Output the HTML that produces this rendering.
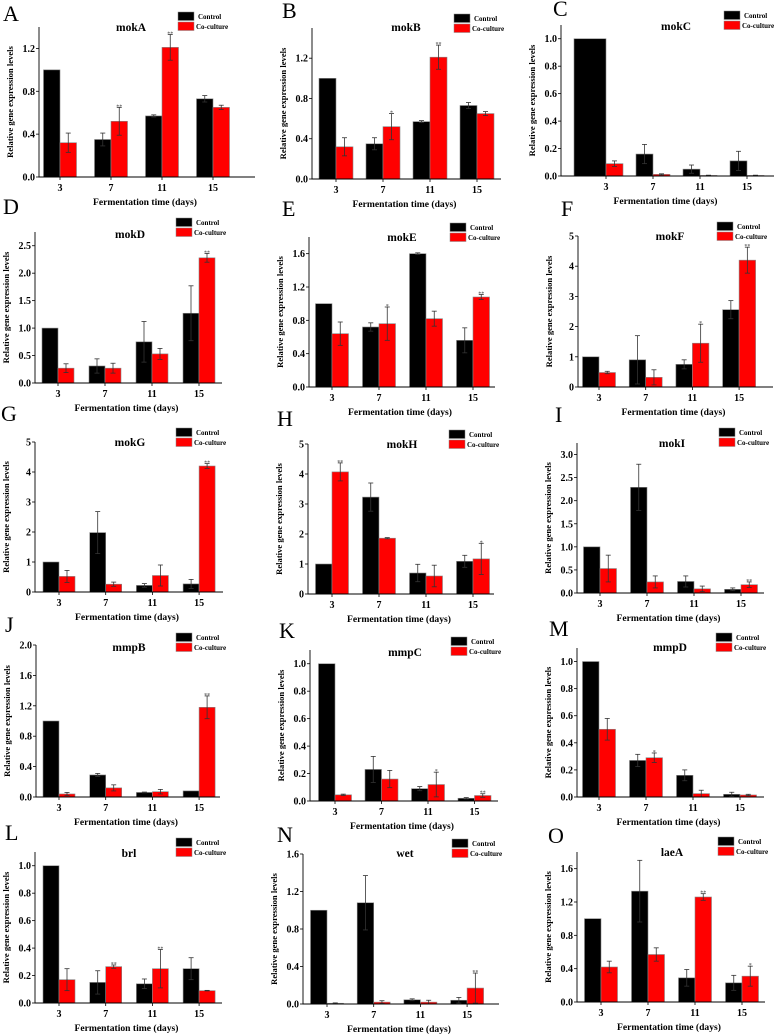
<!DOCTYPE html>
<html><head><meta charset="utf-8">
<style>
html,body{margin:0;padding:0;background:#fff;}
svg{display:block;font-family:"Liberation Serif",serif;}
</style></head>
<body>
<svg id="fig" width="775" height="1035" viewBox="0 0 775 1035" xmlns="http://www.w3.org/2000/svg"></svg>
<script>
const categories = ["3","7","11","15"];
const mokA_ctl=[1,0.35,0.57,0.73], mokA_ctlErr=[0,0.06,0.01,0.03], mokA_co=[0.32,0.52,1.21,0.65], mokA_coErr=[0.09,0.13,0.12,0.02], mokA_sig=["","**","**",""];
const mokB_ctl=[1,0.35,0.57,0.73], mokB_ctlErr=[0,0.06,0.01,0.03], mokB_co=[0.32,0.52,1.21,0.65], mokB_coErr=[0.09,0.13,0.12,0.02], mokB_sig=["","*","**",""];
const mokC_ctl=[1,0.16,0.05,0.11], mokC_ctlErr=[0,0.07,0.03,0.07], mokC_co=[0.09,0.012,0.004,0.004], mokC_coErr=[0.02,0.004,0.002,0.002], mokC_sig=["","","",""];
const mokD_ctl=[1,0.31,0.75,1.27], mokD_ctlErr=[0,0.13,0.37,0.5], mokD_co=[0.27,0.27,0.53,2.28], mokD_coErr=[0.08,0.09,0.1,0.08], mokD_sig=["","","","**"];
const mokE_ctl=[1,0.72,1.6,0.56], mokE_ctlErr=[0,0.05,0.01,0.15], mokE_co=[0.64,0.76,0.82,1.08], mokE_coErr=[0.14,0.2,0.09,0.03], mokE_sig=["","*","","**"];
const mokF_ctl=[1,0.9,0.75,2.56], mokF_ctlErr=[0,0.8,0.15,0.3], mokF_co=[0.48,0.32,1.45,4.2], mokF_coErr=[0.04,0.25,0.63,0.43], mokF_sig=["","","*","**"];
const mokG_ctl=[1,1.98,0.22,0.27], mokG_ctlErr=[0,0.7,0.06,0.15], mokG_co=[0.52,0.26,0.55,4.2], mokG_coErr=[0.2,0.07,0.35,0.08], mokG_sig=["","","","**"];
const mokH_ctl=[1,3.23,0.7,1.09], mokH_ctlErr=[0,0.47,0.29,0.2], mokH_co=[4.07,1.86,0.6,1.17], mokH_coErr=[0.3,0.02,0.36,0.52], mokH_sig=["**","","","*"];
const mokI_ctl=[1,2.29,0.25,0.08], mokI_ctlErr=[0,0.5,0.12,0.03], mokI_co=[0.53,0.24,0.09,0.18], mokI_coErr=[0.29,0.13,0.06,0.06], mokI_sig=["","","","**"];
const mmpB_ctl=[1,0.29,0.06,0.08], mmpB_ctlErr=[0,0.02,0.005,0], mmpB_co=[0.04,0.12,0.07,1.18], mmpB_coErr=[0.02,0.04,0.03,0.15], mmpB_sig=["","","","**"];
const mmpC_ctl=[1,0.23,0.09,0.02], mmpC_ctlErr=[0,0.095,0.015,0.005], mmpC_co=[0.045,0.16,0.12,0.04], mmpC_coErr=[0.005,0.063,0.09,0.013], mmpC_sig=["","","*","**"];
const mmpD_ctl=[1,0.27,0.16,0.02], mmpD_ctlErr=[0,0.045,0.04,0.015], mmpD_co=[0.5,0.29,0.025,0.015], mmpD_coErr=[0.08,0.035,0.025,0.005], mmpD_sig=["","*","",""];
const brl_ctl=[1,0.15,0.14,0.25], brl_ctlErr=[0,0.085,0.035,0.08], brl_co=[0.17,0.265,0.25,0.09], brl_coErr=[0.08,0.012,0.14,0.002], brl_sig=["","**","**",""];
const wet_ctl=[1,1.08,0.045,0.04], wet_ctlErr=[0,0.29,0.01,0.03], wet_co=[0.008,0.02,0.02,0.17], wet_coErr=[0.004,0.015,0.02,0.16], wet_sig=["","","","**"];
const laeA_ctl=[1,1.33,0.29,0.23], laeA_ctlErr=[0,0.37,0.1,0.09], laeA_co=[0.42,0.57,1.26,0.31], laeA_coErr=[0.07,0.08,0.04,0.12], laeA_sig=["","","**","*"];
const ticksA=[0,0.4,0.8,1.2], ticks02=[0,0.2,0.4,0.6,0.8,1.0], ticksD=[0,0.5,1.0,1.5,2.0,2.5], ticks16=[0,0.4,0.8,1.2,1.6], ticks5=[0,1,2,3,4,5], ticksI=[0,0.5,1.0,1.5,2.0,2.5,3.0], ticksJ=[0,0.4,0.8,1.2,1.6,2.0];

const panels=[
 {letter:"A",lx:3,ly:21,gene:"mokA",tx:131,ty:31,L:39,R:255,Z:177,T:27,max:1.4,ticks:ticksA,dec:1,g0:60,gs:51,bw:16.5,legX:178,legY:12,c:mokA_ctl,ce:mokA_ctlErr,r:mokA_co,re:mokA_coErr,s:mokA_sig},
 {letter:"B",lx:282,ly:18,gene:"mokB",tx:406,ty:31,L:312,R:501,Z:179,T:28,max:1.5,ticks:ticksA,dec:1,g0:336,gs:47,bw:17,legX:454,legY:14,c:mokB_ctl,ce:mokB_ctlErr,r:mokB_co,re:mokB_coErr,s:mokB_sig},
 {letter:"C",lx:553,ly:16,gene:"mokC",tx:676,ty:30,L:561,R:774,Z:176,T:25,max:1.1,ticks:ticks02,dec:1,g0:606,gs:47,bw:17,wide0:32,legX:724,legY:11,c:mokC_ctl,ce:mokC_ctlErr,r:mokC_co,re:mokC_coErr,s:mokC_sig},
 {letter:"D",lx:3,ly:214,gene:"mokD",tx:130,ty:238,L:35,R:222,Z:383,T:232,max:2.75,ticks:ticksD,dec:1,g0:58,gs:47,bw:16,legX:176,legY:218,c:mokD_ctl,ce:mokD_ctlErr,r:mokD_co,re:mokD_coErr,s:mokD_sig},
 {letter:"E",lx:282,ly:216,gene:"mokE",tx:402,ty:241,L:309,R:495,Z:387,T:237,max:1.8,ticks:ticks16,dec:1,g0:332,gs:47,bw:16.5,legX:450,legY:223,c:mokE_ctl,ce:mokE_ctlErr,r:mokE_co,re:mokE_coErr,s:mokE_sig},
 {letter:"F",lx:561,ly:216,gene:"mokF",tx:670,ty:240,L:578,R:773,Z:387,T:236,max:5,ticks:ticks5,dec:0,g0:599,gs:46.7,bw:16.5,legX:717,legY:222,c:mokF_ctl,ce:mokF_ctlErr,r:mokF_co,re:mokF_coErr,s:mokF_sig},
 {letter:"G",lx:1,ly:421,gene:"mokG",tx:130,ty:446,L:35,R:223,Z:592,T:442,max:5,ticks:ticks5,dec:0,g0:59,gs:46.7,bw:16,legX:176,legY:428,c:mokG_ctl,ce:mokG_ctlErr,r:mokG_co,re:mokG_coErr,s:mokG_sig},
 {letter:"H",lx:277,ly:426,gene:"mokH",tx:402,ty:448,L:308,R:494,Z:594,T:444,max:5,ticks:ticks5,dec:0,g0:332,gs:47,bw:16.5,legX:449,legY:430,c:mokH_ctl,ce:mokH_ctlErr,r:mokH_co,re:mokH_coErr,s:mokH_sig},
 {letter:"I",lx:555,ly:422,gene:"mokI",tx:672,ty:447,L:577,R:764,Z:593,T:443,max:3.25,ticks:ticksI,dec:1,g0:600,gs:47,bw:16.5,legX:719,legY:428,c:mokI_ctl,ce:mokI_ctlErr,r:mokI_co,re:mokI_coErr,s:mokI_sig},
 {letter:"J",lx:5,ly:632,gene:"mmpB",tx:129,ty:651,L:36,R:220,Z:797,T:645,max:2.0,ticks:ticksJ,dec:1,g0:59,gs:46.7,bw:16,legX:176,legY:633,c:mmpB_ctl,ce:mmpB_ctlErr,r:mmpB_co,re:mmpB_coErr,s:mmpB_sig},
 {letter:"K",lx:279,ly:638,gene:"mmpC",tx:405,ty:656,L:310,R:498,Z:801,T:650,max:1.1,ticks:ticks02,dec:1,g0:335,gs:46.5,bw:16.5,legX:451,legY:637,c:mmpC_ctl,ce:mmpC_ctlErr,r:mmpC_co,re:mmpC_coErr,s:mmpC_sig},
 {letter:"M",lx:549,ly:636,gene:"mmpD",tx:670,ty:651,L:577,R:764,Z:797,T:648,max:1.1,ticks:ticks02,dec:1,g0:599,gs:47,bw:16.5,legX:716,legY:633,c:mmpD_ctl,ce:mmpD_ctlErr,r:mmpD_co,re:mmpD_coErr,s:mmpD_sig},
 {letter:"L",lx:5,ly:840,gene:"brl",tx:129,ty:857,L:35,R:222,Z:1003,T:852,max:1.1,ticks:ticks02,dec:1,g0:59,gs:46.7,bw:16,legX:176,legY:838,c:brl_ctl,ce:brl_ctlErr,r:brl_co,re:brl_coErr,s:brl_sig},
 {letter:"N",lx:277,ly:842,gene:"wet",tx:405,ty:857,L:303,R:499,Z:1004,T:854,max:1.6,ticks:ticks16,dec:1,g0:327,gs:46.7,bw:16.5,legX:452,legY:839,c:wet_ctl,ce:wet_ctlErr,r:wet_co,re:wet_coErr,s:wet_sig},
 {letter:"O",lx:548,ly:843,gene:"laeA",tx:672,ty:856,L:577,R:765,Z:1002,T:852,max:1.8,ticks:ticks16,dec:1,g0:601,gs:47,bw:16.5,legX:718,legY:837,c:laeA_ctl,ce:laeA_ctlErr,r:laeA_co,re:laeA_coErr,s:laeA_sig}
];

const NS="http://www.w3.org/2000/svg";
const fig=document.getElementById("fig");
function mk(tag,attrs,parent,text){const e=document.createElementNS(NS,tag);for(const k in attrs)e.setAttribute(k,attrs[k]);if(text!==undefined)e.textContent=text;parent.appendChild(e);return e;}

panels.forEach(p=>{
  const g=mk("g",{},fig);
  
  
  const y=v=>p.Z-(v/p.max)*(p.Z-p.T);
  const x=i=>p.g0+i*p.gs;
  let t;
  t=mk("text",{x:p.lx,y:p.ly,"font-size":22,fill:"#000"},g,p.letter);
  
  
  t=mk("text",{x:p.tx,y:p.ty,"font-size":11.5,"font-weight":"bold","text-anchor":"middle"},g,p.gene);
  
  
  categories.forEach((cat,i)=>{
    const cx=x(i);
    const cw=(i===0&&p.wide0)?p.wide0:p.bw;
    let b=mk("rect",{x:cx-cw,y:y(p.c[i]),width:cw,height:p.Z-y(p.c[i]),fill:"#000",stroke:"#888","stroke-width":0.6},g);
    
    
    b=mk("rect",{x:cx,y:y(p.r[i]),width:p.bw,height:p.Z-y(p.r[i]),fill:"#f00",stroke:"#888","stroke-width":0.6},g);
    
    
    [[cx-p.bw/2,p.c[i],p.ce[i]],[cx+p.bw/2,p.r[i],p.re[i]]].forEach(([ex,v,e])=>{
      if(e<=0)return;
      const eg=mk("g",{stroke:"#333","stroke-width":0.8},g);
      
      
      mk("line",{x1:ex,x2:ex,y1:y(v+e),y2:y(Math.max(0,v-e))},eg);
      mk("line",{x1:ex-2.5,x2:ex+2.5,y1:y(v+e),y2:y(v+e)},eg);
      mk("line",{x1:ex-2.5,x2:ex+2.5,y1:y(Math.max(0,v-e)),y2:y(Math.max(0,v-e))},eg);
    });
    if(p.s[i]){
      const top=y(p.r[i]+p.re[i]);
      const st=mk("text",{x:cx+p.bw/2,y:top+1,"font-size":6,"text-anchor":"middle",fill:"#444"},g,p.s[i]);
      
      
    }
    const tl=mk("text",{x:cx,y:p.Z+14,"font-size":10,"font-weight":"bold","text-anchor":"middle"},g,cat);
    
    
    mk("line",{x1:cx,x2:cx,y1:p.Z,y2:p.Z+3,stroke:"#000","stroke-width":0.8},g);
  });
  const ax=mk("path",{d:`M${p.L},${p.T}V${p.Z}H${p.R}`,fill:"none",stroke:"#000","stroke-width":0.9},g);
  
  
  p.ticks.forEach(v=>{
    mk("line",{x1:p.L-3,x2:p.L,y1:y(v),y2:y(v),stroke:"#000","stroke-width":0.8},g);
    const yt=mk("text",{x:p.L-4,y:y(v)+3.5,"font-size":10,"font-weight":"bold","text-anchor":"end"},g,v.toFixed(p.dec));
    
    
  });
  const yl=mk("text",{x:0,y:0,"font-size":8.6,"font-weight":"bold","text-anchor":"middle",transform:`translate(${p.L-26},${(p.T+p.Z)/2}) rotate(-90)`},g,"Relative gene expression levels");
  
  
  const xl=mk("text",{x:(p.L+p.R)/2-2,y:p.Z+28,"font-size":9.6,"font-weight":"bold","text-anchor":"middle"},g,"Fermentation time (days)");
  
  
  const lg=mk("g",{},g);
  
  
  mk("rect",{x:p.legX,y:p.legY,width:16,height:8.5,fill:"#000",stroke:"#888","stroke-width":0.5},lg);
  mk("rect",{x:p.legX,y:p.legY+10,width:16,height:8.5,fill:"#f00",stroke:"#888","stroke-width":0.5},lg);
  mk("text",{x:p.legX+20,y:p.legY+7,"font-size":7,"font-weight":"bold"},lg,"Control");
  mk("text",{x:p.legX+18,y:p.legY+17,"font-size":7,"font-weight":"bold"},lg,"Co-culture");
});
</script>
</body></html>
